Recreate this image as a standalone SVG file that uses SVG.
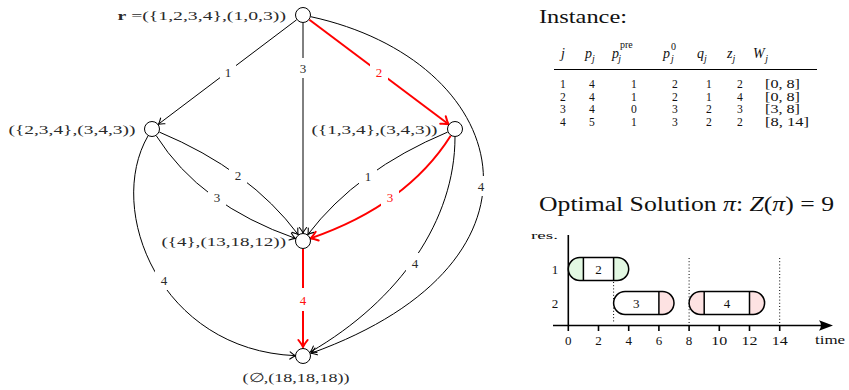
<svg xmlns="http://www.w3.org/2000/svg" width="849" height="390" viewBox="0 0 849 390">
<style>
text{font-family:"Liberation Serif","Times New Roman",serif;}
.nl{font-size:13px;fill:#2a2a2a;}
.el{font-size:13px;fill:#2a2a2a;text-anchor:middle;}
.elr{font-size:13px;fill:#ff1010;text-anchor:middle;}
.node{fill:#fff;stroke:#000;stroke-width:1;}
.e{fill:none;stroke:#000;stroke-width:1;marker-end:url(#ab);}
.er{fill:none;stroke:#ff0000;stroke-width:2;marker-end:url(#ar);}
.mask{fill:#fff;}
.th{font-size:14px;fill:#111;}
.tb{font-size:11.6px;fill:#111;}
.tc{text-anchor:middle;}
.it{font-style:italic;}
.sm{font-size:10px;}
.ax{stroke:#000;stroke-width:1.6;fill:none;}
.tick{font-size:13px;fill:#111;text-anchor:middle;}
.box{fill:none;stroke:#000;stroke-width:1.5;}
.grn{fill:#e2f8e2;}
.pnk{fill:#fde2e2;}
.dot{stroke:#000;stroke-width:1;stroke-dasharray:1,2.2;}
</style>
<defs>
<marker id="ab" markerUnits="userSpaceOnUse" viewBox="-8 -5 10 10" markerWidth="10" markerHeight="10" refX="0" refY="0" orient="auto">
<path d="M-5.5,-3.6 Q-2,-0.8 0,0 Q-2,0.8 -5.5,3.6" fill="none" stroke="#000" stroke-width="1.1" stroke-linecap="round"/>
</marker>
<marker id="ar" markerUnits="userSpaceOnUse" viewBox="-9 -6 12 12" markerWidth="12" markerHeight="12" refX="0" refY="0" orient="auto">
<path d="M-7,-4.6 Q-2.5,-1 0,0 Q-2.5,1 -7,4.6" fill="none" stroke="#ff0000" stroke-width="2" stroke-linecap="round"/>
</marker>
</defs>

<g id="connectors">
<line class="e" x1="296.6" y1="19.8" x2="158.4" y2="124.2"/>
<line class="e" x1="303" y1="23" x2="303" y2="233"/>
<line class="er" x1="309.4" y1="19.8" x2="448.6" y2="124.2"/>
<path class="e" d="M310.8,16.7 C510,60 570,260 311,353.3"/>
<path class="e" d="M159.4,132.1 Q250,170 298.2,234.6"/>
<path class="e" d="M156.3,135.8 Q200,205 295.4,238.4"/>
<path class="e" d="M447.6,132.1 Q357,170 307.8,234.6"/>
<path class="er" d="M450.7,135.8 Q407,205 310.6,238.4"/>
<path class="e" d="M148,135.9 C105,210 160,350 295.5,355.7"/>
<path class="e" d="M455,137 C455,220 400,300 310.4,352"/>
<line class="er" x1="303" y1="249" x2="303" y2="347"/>
</g>

<g id="edge-labels">
<rect class="mask" x="220" y="63" width="16" height="19"/><text class="el" x="228" y="77">1</text>
<rect class="mask" x="295" y="58" width="16" height="20"/><text class="el" x="303" y="73">3</text>
<rect class="mask" x="370" y="62" width="18" height="20"/><text class="elr" x="379" y="77">2</text>
<rect class="mask" x="473" y="176" width="16" height="20"/><text class="el" x="481" y="190.5">4</text>
<rect class="mask" x="229" y="165" width="18" height="19"/><text class="el" x="238" y="179.5">2</text>
<rect class="mask" x="208" y="188" width="18" height="19"/><text class="el" x="217" y="202">3</text>
<rect class="mask" x="359" y="166" width="18" height="19"/><text class="el" x="368" y="180.5">1</text>
<rect class="mask" x="381" y="188" width="18" height="19"/><text class="elr" x="390" y="202">3</text>
<rect class="mask" x="155" y="270" width="18" height="20"/><text class="el" x="164" y="284.5">4</text>
<rect class="mask" x="406" y="253" width="18" height="20"/><text class="el" x="415" y="267.5">4</text>
<rect class="mask" x="295" y="288" width="16" height="23"/><text class="elr" x="303" y="304.5">4</text>
</g>

<g id="node-r">
<circle class="node" cx="303" cy="15" r="7.5"/>
<text class="nl" x="117.5" y="19.5" textLength="168.5" lengthAdjust="spacingAndGlyphs"><tspan font-weight="bold">r</tspan> =({1,2,3,4},(1,0,3))</text>
</g>
<g id="node-234">
<circle class="node" cx="152" cy="129" r="7.5"/>
<text class="nl" x="8.5" y="133.5" textLength="127" lengthAdjust="spacingAndGlyphs">({2,3,4},(3,4,3))</text>
</g>
<g id="node-134">
<circle class="node" cx="455" cy="129" r="7.5"/>
<text class="nl" x="311.5" y="133.5" textLength="126" lengthAdjust="spacingAndGlyphs">({1,3,4},(3,4,3))</text>
</g>
<g id="node-4">
<circle class="node" cx="303" cy="241" r="7.5"/>
<text class="nl" x="161.5" y="246" textLength="124.5" lengthAdjust="spacingAndGlyphs">({4},(13,18,12))</text>
</g>
<g id="node-empty">
<circle class="node" cx="303" cy="356" r="7.5"/>
<text class="nl" x="242.5" y="382" textLength="107" lengthAdjust="spacingAndGlyphs">(∅,(18,18,18))</text>
</g>

<g id="instance">
<text x="539" y="23" font-size="19" fill="#111" textLength="88" lengthAdjust="spacingAndGlyphs">Instance:</text>
<g class="th">
<text class="it" x="563" y="58" text-anchor="middle">j</text>
<text x="585" y="58"><tspan class="it">p</tspan><tspan class="it sm" dy="3.5">j</tspan></text>
<text x="612" y="58"><tspan class="it">p</tspan><tspan class="sm" dy="-10" dx="1">pre</tspan><tspan class="it sm" dx="-14.5" dy="13.5">j</tspan></text>
<text x="663" y="58"><tspan class="it">p</tspan><tspan class="sm" dy="-8" dx="1">0</tspan><tspan class="it sm" dx="-5" dy="11.5">j</tspan></text>
<text x="697" y="58"><tspan class="it">q</tspan><tspan class="it sm" dy="3.5">j</tspan></text>
<text x="727" y="58"><tspan class="it">z</tspan><tspan class="it sm" dy="3.5">j</tspan></text>
<text x="753" y="58"><tspan class="it">W</tspan><tspan class="it sm" dy="3.5" dx="0.5">j</tspan></text>
</g>
<line x1="554" y1="69.5" x2="817" y2="69.5" stroke="#000" stroke-width="1.2"/>
<g class="tb tc">
<text x="563" y="88">1</text><text x="592" y="88">4</text><text x="634" y="88">1</text><text x="675" y="88">2</text><text x="709" y="88">1</text><text x="740" y="88">2</text>
<text x="563" y="100.7">2</text><text x="592" y="100.7">4</text><text x="634" y="100.7">1</text><text x="675" y="100.7">2</text><text x="709" y="100.7">1</text><text x="740" y="100.7">4</text>
<text x="563" y="113.4">3</text><text x="592" y="113.4">4</text><text x="634" y="113.4">0</text><text x="675" y="113.4">3</text><text x="709" y="113.4">2</text><text x="740" y="113.4">3</text>
<text x="563" y="126.1">4</text><text x="592" y="126.1">5</text><text x="634" y="126.1">1</text><text x="675" y="126.1">3</text><text x="709" y="126.1">2</text><text x="740" y="126.1">2</text>
</g>
<g class="tb">
<text x="765" y="88" textLength="35" lengthAdjust="spacingAndGlyphs">[0, 8]</text>
<text x="765" y="100.7" textLength="35" lengthAdjust="spacingAndGlyphs">[0, 8]</text>
<text x="765" y="113.4" textLength="35" lengthAdjust="spacingAndGlyphs">[3, 8]</text>
<text x="765" y="126.1" textLength="44" lengthAdjust="spacingAndGlyphs">[8, 14]</text>
</g>
</g>

<g id="solution">
<text x="539" y="211" font-size="20" fill="#111" textLength="295" lengthAdjust="spacingAndGlyphs">Optimal Solution <tspan class="it">π</tspan>: <tspan class="it">Z</tspan>(<tspan class="it">π</tspan>) = 9</text>
<text x="531" y="239" font-size="11" fill="#111" textLength="27" lengthAdjust="spacingAndGlyphs">res.</text>
<text class="tick" x="555" y="273.5">1</text>
<text class="tick" x="555" y="307.5">2</text>
<line class="dot" x1="613.6" y1="282" x2="613.6" y2="323"/>
<line class="dot" x1="689.1" y1="258" x2="689.1" y2="323"/>
<line class="dot" x1="779.7" y1="258" x2="779.7" y2="323"/>
<line class="ax" x1="568.3" y1="235" x2="568.3" y2="331"/>
<line class="ax" x1="553" y1="325.5" x2="826" y2="325.5"/>
<path d="M833,325.5 L819,320.3 Q823,325.5 819,330.7 Z" fill="#000"/>
<g class="ax">
<line x1="598.5" y1="325.5" x2="598.5" y2="331"/>
<line x1="628.7" y1="325.5" x2="628.7" y2="331"/>
<line x1="658.9" y1="325.5" x2="658.9" y2="331"/>
<line x1="689.1" y1="325.5" x2="689.1" y2="331"/>
<line x1="719.3" y1="325.5" x2="719.3" y2="331"/>
<line x1="749.5" y1="325.5" x2="749.5" y2="331"/>
<line x1="779.7" y1="325.5" x2="779.7" y2="331"/>
</g>
<text class="tick" x="568.3" y="344.5">0</text>
<text class="tick" x="598.5" y="344.5">2</text>
<text class="tick" x="628.7" y="344.5">4</text>
<text class="tick" x="658.9" y="344.5">6</text>
<text class="tick" x="689.1" y="344.5">8</text>
<text class="tick" x="719.3" y="344.5" textLength="16" lengthAdjust="spacingAndGlyphs">10</text>
<text class="tick" x="749.5" y="344.5" textLength="16" lengthAdjust="spacingAndGlyphs">12</text>
<text class="tick" x="779.7" y="344.5" textLength="16" lengthAdjust="spacingAndGlyphs">14</text>
<text x="815" y="344" font-size="12" fill="#111" textLength="30" lengthAdjust="spacingAndGlyphs">time</text>

<g id="job2">
<path class="grn" d="M583.4,257.5 H579.8 A11.5,11.5 0 0 0 579.8,280.5 H583.4 Z"/>
<path class="grn" d="M613.6,257.5 H617.2 A11.5,11.5 0 0 1 617.2,280.5 H613.6 Z"/>
<rect class="box" x="568.3" y="257.5" width="60.4" height="23" rx="11.5"/>
<line class="box" x1="583.4" y1="257.5" x2="583.4" y2="280.5"/>
<line class="box" x1="613.6" y1="257.5" x2="613.6" y2="280.5"/>
<text class="tick" x="598.5" y="273.5">2</text>
</g>
<g id="job3">
<path class="pnk" d="M658.9,291.5 H662.5 A11.5,11.5 0 0 1 662.5,314.5 H658.9 Z"/>
<rect class="box" x="613.6" y="291.5" width="60.4" height="23" rx="11.5"/>
<line class="box" x1="658.9" y1="291.5" x2="658.9" y2="314.5"/>
<text class="tick" x="636.3" y="307.5">3</text>
</g>
<g id="job4">
<path class="pnk" d="M704.2,291.5 H700.6 A11.5,11.5 0 0 0 700.6,314.5 H704.2 Z"/>
<path class="pnk" d="M749.5,291.5 H753.1 A11.5,11.5 0 0 1 753.1,314.5 H749.5 Z"/>
<rect class="box" x="689.1" y="291.5" width="75.5" height="23" rx="11.5"/>
<line class="box" x1="704.2" y1="291.5" x2="704.2" y2="314.5"/>
<line class="box" x1="749.5" y1="291.5" x2="749.5" y2="314.5"/>
<text class="tick" x="726.9" y="307.5">4</text>
</g>
</g>
</svg>
